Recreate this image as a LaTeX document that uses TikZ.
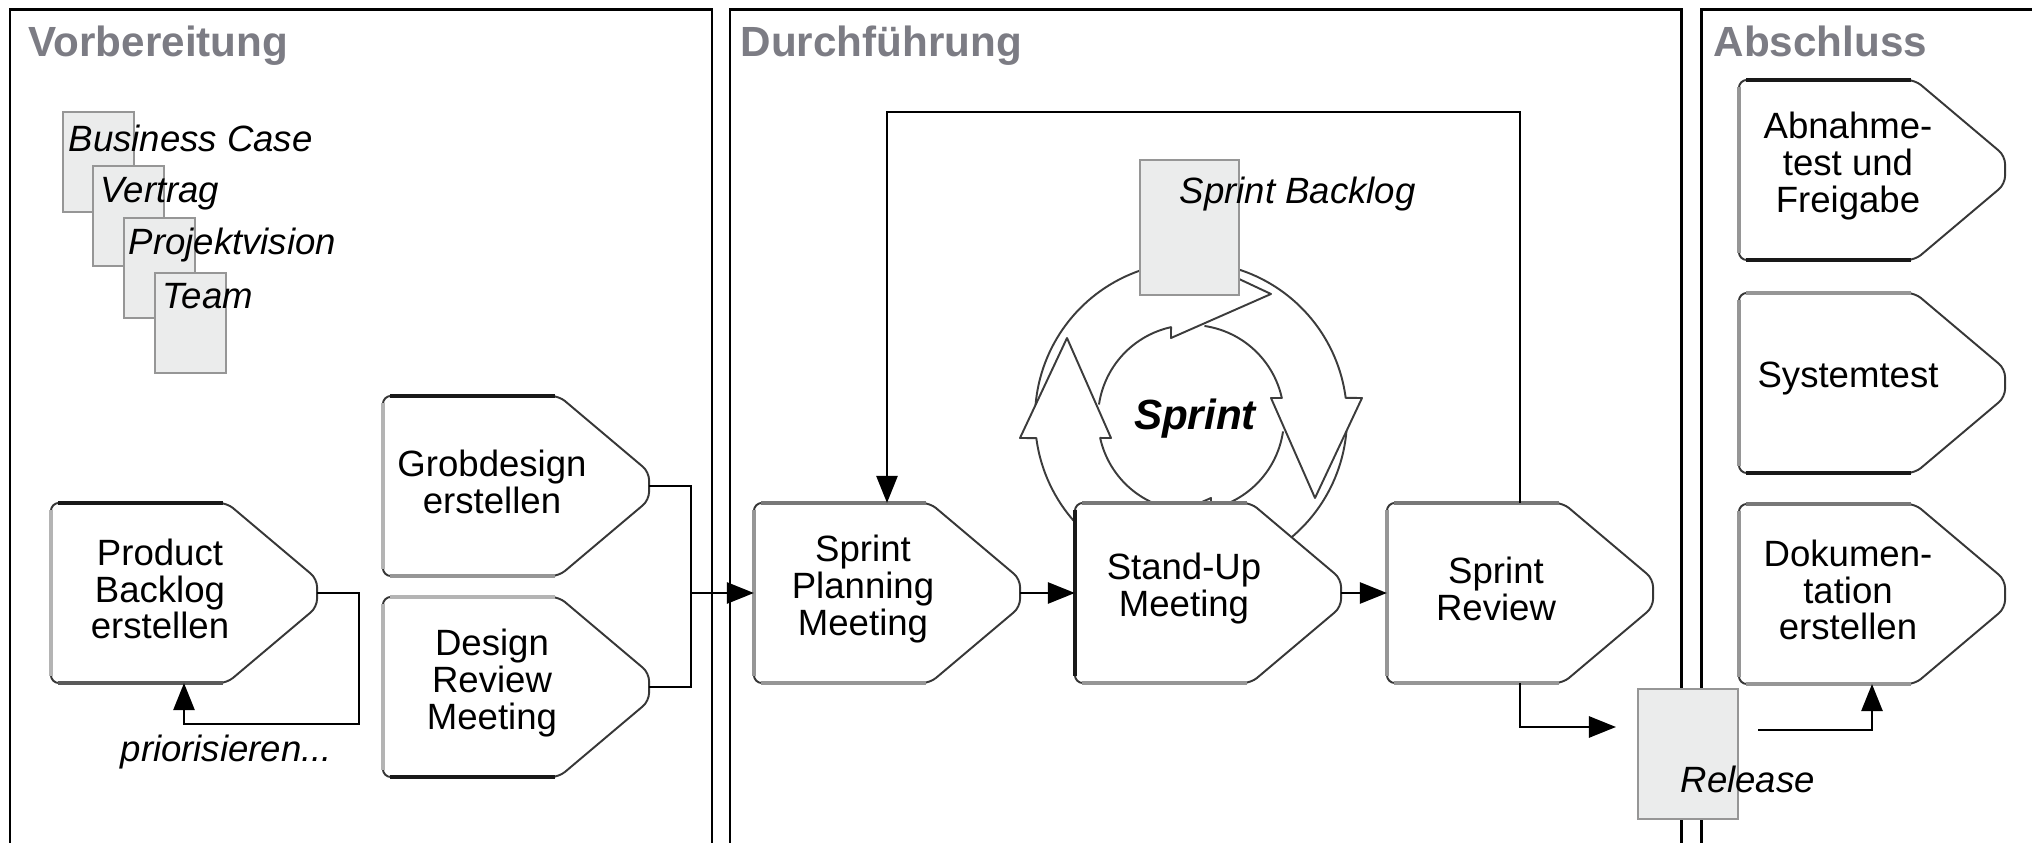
\documentclass[tikz,border=0pt]{standalone}
\usepackage{fontspec}
\setmainfont{Liberation Sans}
\usetikzlibrary{arrows.meta,calc}

\definecolor{titlegray}{RGB}{124,124,132}
\definecolor{docfill}{RGB}{235,236,236}
\definecolor{docline}{RGB}{150,150,150}
\definecolor{edgedark}{RGB}{55,55,55}
\definecolor{ringline}{RGB}{60,60,60}
\definecolor{eblack}{RGB}{25,25,25}
\definecolor{edeep}{RGB}{90,90,90}
\definecolor{egray}{RGB}{120,120,120}
\definecolor{emid}{RGB}{150,150,150}
\definecolor{elight}{RGB}{180,180,180}

\newcommand\labelfont{\fontsize{10.4pt}{10.5pt}\selectfont}

\tikzset{
  procbox/.style={minimum width=2.66cm, minimum height=1.8cm, inner sep=0pt, outer sep=0pt},
  procshape/.style={fill=white, draw=edgedark, line width=0.55pt, rounded corners=0.08cm},
  procedge/.style={line width=1pt},
  proclabel/.style={align=center, font=\labelfont, inner sep=0pt},
  docsheet/.style={fill=docfill, draw=docline, line width=0.6pt, inner sep=0pt, anchor=north west},
  doclabel/.style={font=\labelfont\itshape, anchor=base west, inner sep=0pt},
  phase/.style={font=\fontsize{12pt}{14pt}\selectfont\bfseries, text=titlegray, anchor=base west, inner sep=0pt},
  panel/.style={line width=0.85pt, draw=black},
  link/.style={line width=0.75pt, draw=black},
  conn/.style={link, -{Triangle[length=0.27cm,width=0.21cm]}},
  ring/.style={draw=ringline, line width=0.55pt, line join=round},
}

% process step: name, left x, top y, top/left/bottom edge colours, label
\newcommand\procnode[7]{%
  \node[procbox] (#1) at (#2+133,#3+90) {};
  \path[procshape] (#1.west) |- ($(#1.north west)+(176,0)$)
     -- ($(#1.east)+(0,-14)$) -- ($(#1.east)+(0,14)$)
     -- ($(#1.south west)+(176,0)$) -- (#1.south west) -- cycle;
  \draw[procedge,#4] ($(#1.north west)+(7,0)$) -- ($(#1.north west)+(172,0)$);
  \draw[procedge,#5] ($(#1.north west)+(0,7)$) -- ($(#1.south west)+(0,-7)$);
  \draw[procedge,#6] ($(#1.south west)+(7,0)$) -- ($(#1.south west)+(172,0)$);
  \node[proclabel] (#1-label) at ($(#1.center)+(-24,-4)$) {#7};
}

\begin{document}
\begin{tikzpicture}[x=0.01cm, y=-0.01cm]
\useasboundingbox (0,0) rectangle (2032,843);

% phase panels
\draw[panel] (10,843) -- (10,10) -- (712,10) -- (712,843);
\draw[panel] (730,843) -- (730,10) -- (1681,10) -- (1681,843);
\draw[panel] (1701,843) -- (1701,10) -- (2032,10);
\node[phase] (t1) at (28,57) {Vorbereitung};
\node[phase] (t2) at (740,57) {Durchführung};
\node[phase] (t3) at (1713,57) {Abschluss};

% stacked documents
\node[docsheet, minimum width=0.71cm, minimum height=1.0cm] (d1) at (62,111) {};
\node[doclabel] (d1-label) at (68,152) {Business Case};
\node[docsheet, minimum width=0.71cm, minimum height=1.0cm] (d2) at (92,165) {};
\node[doclabel] (d2-label) at (100,203) {Vertrag};
\node[docsheet, minimum width=0.71cm, minimum height=1.0cm] (d3) at (123,217) {};
\node[doclabel] (d3-label) at (128,255) {Projektvision};
\node[docsheet, minimum width=0.71cm, minimum height=1.0cm] (d4) at (154,272) {};
\node[doclabel] (d4-label) at (162,309) {Team};

% sprint cycle: four curved block arrows around one centre
\foreach \k in {0,90,180,270}{
  \draw[ring]
    plot[domain=94.8:172.6, samples=40] ({1191+156*cos(\x+\k)},{418+156*sin(\x+\k)})
    -- ({1191-171*cos(\k)-20*sin(\k)},{418-171*sin(\k)+20*cos(\k)})
    -- ({1191-124*cos(\k)+80*sin(\k)},{418-124*sin(\k)-80*cos(\k)})
    -- ({1191-80*cos(\k)-20*sin(\k)},{418-80*sin(\k)+20*cos(\k)})
    -- plot[domain=0:69.3, samples=40] ({1191+93*cos(167.6-\x+\k)},{418+93*sin(167.6-\x+\k)});
}

% sprint backlog
\node[docsheet, minimum width=0.99cm, minimum height=1.35cm] (sb) at (1139,159) {};
\node[doclabel] (sb-label) at (1179,204) {Sprint Backlog};

% process steps
\procnode{pb}{51}{503}{eblack}{elight}{edeep}{Product\\Backlog\\erstellen}
\procnode{gd}{383}{396}{eblack}{elight}{emid}{Grobdesign\\erstellen}
\procnode{dr}{383}{597}{elight}{elight}{eblack}{Design\\Review\\Meeting}
\procnode{spm}{754}{503}{egray}{emid}{emid}{Sprint\\Planning\\Meeting}
\procnode{sum}{1075}{503}{egray}{eblack}{emid}{Stand-Up\\Meeting}
\procnode{sr}{1387}{503}{egray}{emid}{emid}{Sprint\\Review}
\procnode{ab}{1739}{80}{eblack}{emid}{eblack}{Abnahme-\\test und\\Freigabe}
\procnode{st}{1739}{293}{emid}{emid}{eblack}{Systemtest}
\procnode{dk}{1739}{504}{egray}{emid}{emid}{Dokumen-\\tation\\erstellen}

\node[font=\fontsize{12pt}{14pt}\selectfont\bfseries\itshape, anchor=base, inner sep=0pt] (sprint) at (1195,430) {Sprint};

% connectors
\draw[conn] (pb.east) -- ++(42,0) -- ++(0,131) -| (pb.south);
\node[doclabel] (prio) at (120,762) {priorisieren...};

\coordinate (merge) at (691,593);
\draw[link] (gd.east) -| (merge);
\draw[link] (dr.east) -| (merge);
\draw[conn] (merge) -- (spm.west);
\draw[conn] (spm.east) -- (sum.west);
\draw[conn] (sum.east) -- (sr.west);
\draw[conn] (sr.north) -- ++(0,-391) -| (spm.north);

% release
\node[docsheet, minimum width=1.0cm, minimum height=1.3cm] (rel) at (1637,688) {};
\node[doclabel] (rel-label) at (1680,793) {Release};
\coordinate (relin) at (1616,727);
\coordinate (relout) at (1758,730);
\draw[conn] (sr.south) |- (relin);
\draw[conn] (relout) -| (dk.south);
\end{tikzpicture}
\end{document}
